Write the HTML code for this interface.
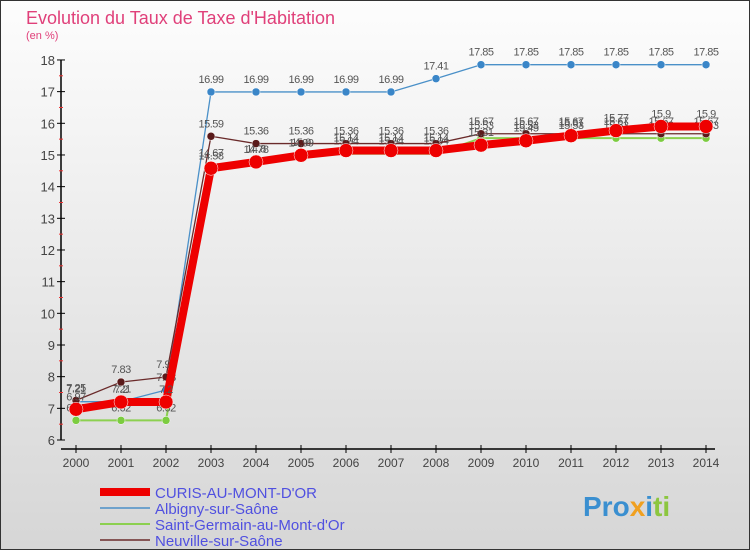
<!DOCTYPE html>
<html><head><meta charset="utf-8"><style>
body{margin:0;width:750px;height:550px;overflow:hidden;font-family:"Liberation Sans","DejaVu Sans",sans-serif}
svg{display:block}
</style></head><body>
<svg id="c" width="750" height="550" xmlns="http://www.w3.org/2000/svg">
<defs><linearGradient id="bg" x1="0" y1="0" x2="0" y2="1"><stop offset="0" stop-color="#fdfdfd"/><stop offset="1" stop-color="#d6d6d6"/></linearGradient></defs>
<rect x="0.5" y="0.5" width="749" height="549" fill="url(#bg)" stroke="#333"/>
<text x="26" y="24" font-size="18" fill="#e0407a">Evolution du Taux de Taxe d'Habitation</text>
<text x="26" y="39" font-size="11" fill="#e0407a">(en %)</text>
<g id="axes"></g><g id="series"></g><g id="legend"></g>
<text x="583" y="516" font-size="28" font-weight="bold" fill="#3a8fd0">Pro<tspan fill="#f0a020">x</tspan><tspan fill="#3a8fd0">i</tspan><tspan fill="#8cc63f">ti</tspan></text>
</svg>
<script>
const years=[2000,2001,2002,2003,2004,2005,2006,2007,2008,2009,2010,2011,2012,2013,2014];
const curis=[6.97,7.2,7.2,14.58,14.78,14.99,15.14,15.14,15.14,15.31,15.45,15.61,15.77,15.9,15.9];
const albigny=[7.21,7.21,7.58,16.99,16.99,16.99,16.99,16.99,17.41,17.85,17.85,17.85,17.85,17.85,17.85];
const stgermain=[6.62,6.62,6.62,14.67,14.8,15.0,15.04,15.04,15.04,15.53,15.53,15.53,15.53,15.53,15.53];
const neuville=[7.25,7.83,7.99,15.59,15.36,15.36,15.36,15.36,15.36,15.67,15.67,15.67,15.67,15.67,15.67];
const yTicks=[6,7,8,9,10,11,12,13,14,15,16,17,18];
const names=["CURIS-AU-MONT-D'OR","Albigny-sur-Saône","Saint-Germain-au-Mont-d'Or","Neuville-sur-Saône"];
const NS="http://www.w3.org/2000/svg";
const X=y=>76+(y-2000)*45, Y=v=>440-(v-6)*31.67;
function mk(t,a,p){const e=document.createElementNS(NS,t);for(const k in a)e.setAttribute(k,a[k]);p.appendChild(e);return e;}
const ax=document.getElementById('axes');
let yl=mk('line',{x1:61,y1:Y(18),x2:61,y2:Y(6),stroke:'#000','stroke-width':1.5},ax);


yTicks.forEach(v=>{mk('line',{x1:57,x2:65,y1:Y(v),y2:Y(v),stroke:'#000'},ax);
 if(v<18)mk('line',{x1:59,x2:63,y1:Y(v+0.5),y2:Y(v+0.5),stroke:'#e33'},ax);
 const t=mk('text',{x:55,y:Y(v)+5,'font-size':13,fill:'#444','text-anchor':'end'},ax);t.textContent=v;
 
 });
let xl=mk('line',{x1:61,y1:449,x2:715,y2:449,stroke:'#000','stroke-width':1.5},ax);


years.forEach(y=>{mk('line',{x1:X(y),x2:X(y),y1:445,y2:453,stroke:'#000'},ax);
 const t=mk('text',{x:X(y),y:467,'font-size':12,fill:'#444','text-anchor':'middle'},ax);t.textContent=y;
 
 });
const sg=document.getElementById('series');
const defs=[[albigny,'#4a90c8',1.3,4,'#3a86c8','albigny'],[stgermain,'#8cd050',2,4,'#7ccc40','saint-germain'],[neuville,'#6a2a2a',1.3,4,'#5a1a1a','neuville'],[curis,'#ee0000',8,7,'#ee0000','curis']];
defs.forEach(([d,c,w,r,f,n])=>{
 const l=mk('polyline',{points:d.map((v,i)=>X(years[i])+','+Y(v)).join(' '),fill:'none',stroke:c,'stroke-width':w,'stroke-linejoin':'round'},sg);
 
 
 d.forEach((v,i)=>{const p=mk('circle',{cx:X(years[i]),cy:Y(v),r:r,fill:f,stroke:'#fff','stroke-width':0.5},sg);
  
  
  const t=mk('text',{x:X(years[i]),y:Y(v)-9,'font-size':11,fill:'#555','text-anchor':'middle','letter-spacing':'-0.5'},sg);t.textContent=v.toFixed(2).replace(/0$/,'');
  
  });
});
const lg=document.getElementById('legend');
const lc=['#ee0000','#4a90c8','#8cd050','#6a2a2a'],lw=[8,1.5,2,1.5];
names.forEach((n,i)=>{const y=492+i*16;
 const l=mk('line',{x1:100,x2:150,y1:y,y2:y,stroke:lc[i],'stroke-width':lw[i]},lg);
 
 
 const t=mk('text',{x:155,y:y+6,'font-size':15,fill:'#5050e0'},lg);t.textContent=n;
 
 });
</script>
</body></html>
